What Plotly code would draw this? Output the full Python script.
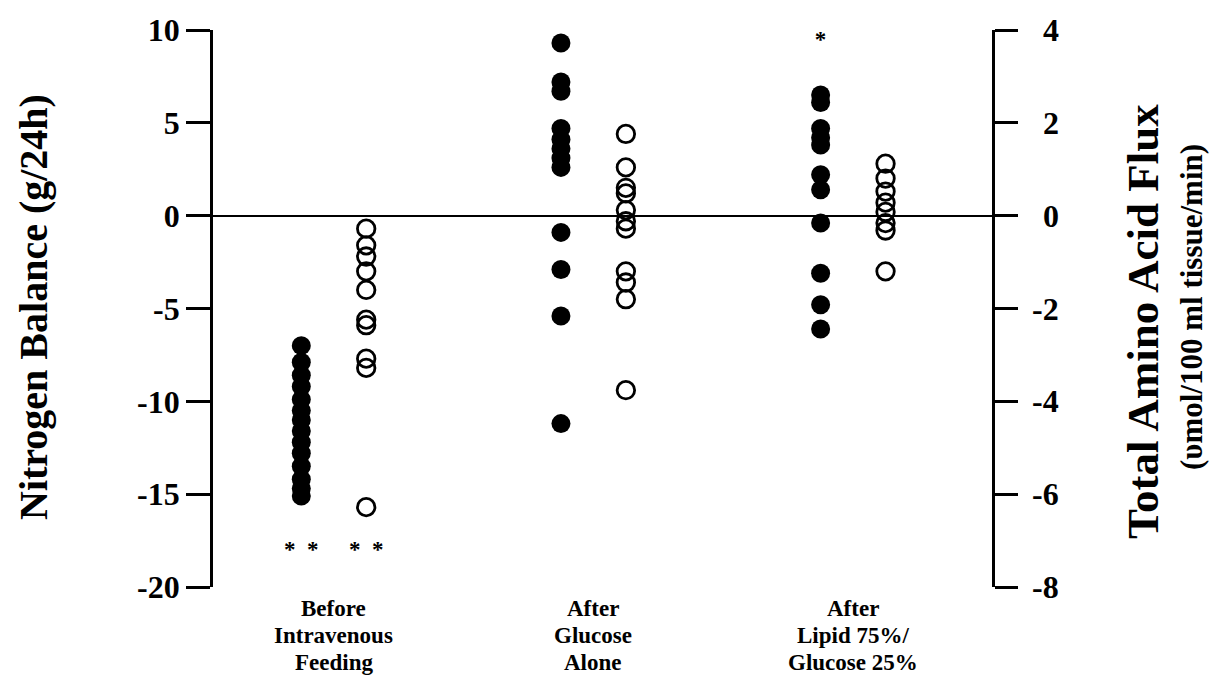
import plotly.graph_objects as go

# Group positions (categorical) and labels
groups = [1, 2, 3]
group_labels = [
    ["Before", "Intravenous", "Feeding"],
    ["After", "Glucose", "Alone"],
    ["After", "Lipid 75%/", "Glucose 25%"],
]

# Nitrogen balance (g/24h) - filled circles, left axis
nb_g1 = [-7.0, -7.9, -8.6, -9.2, -9.9, -10.5, -11.0, -11.6, -12.2, -12.8, -13.5, -14.2, -14.7, -15.1]
nb_g2 = [9.3, 7.2, 6.7, 4.7, 4.1, 3.6, 3.1, 2.6, -0.9, -2.9, -5.4, -11.2]
nb_g3 = [6.5, 6.1, 4.7, 4.2, 3.8, 2.2, 1.4, -0.4, -3.1, -4.8, -6.1]

# Total amino acid flux (umol/100 ml tissue/min) - open circles, right axis
aa_g1 = [-0.28, -0.64, -0.88, -1.2, -1.6, -2.24, -2.36, -3.08, -3.28, -6.28]
aa_g2 = [1.76, 1.04, 0.6, 0.48, 0.12, -0.12, -0.28, -1.2, -1.44, -1.8, -3.76]
aa_g3 = [1.12, 0.8, 0.52, 0.28, 0.08, -0.16, -0.32, -1.2]

left_ticks = [10, 5, 0, -5, -10, -15, -20]
right_ticks = [4, 2, 0, -2, -4, -6, -8]

# significance marks: (group, side, nitrogen-axis value, text)
stars = [(1, -1, -18.1, "*\u00a0\u00a0*"), (1, 1, -18.1, "*\u00a0\u00a0*"), (3, -1, 9.4, "*")]

OFF = 0.125
FONT = "Liberation Serif, Times New Roman, serif"
L, R, T, B = 213, 219, 26, 102
W, H = 1211, 689
PW = W - L - R
PH = H - T - B

fig = go.Figure()

for g, vals in zip(groups, [nb_g1, nb_g2, nb_g3]):
    fig.add_trace(go.Scatter(
        x=[g - OFF] * len(vals), y=vals, mode="markers",
        marker=dict(symbol="circle", size=19, color="black"),
        showlegend=False, yaxis="y"))

for g, vals in zip(groups, [aa_g1, aa_g2, aa_g3]):
    fig.add_trace(go.Scatter(
        x=[g + OFF] * len(vals), y=vals, mode="markers",
        marker=dict(symbol="circle-open", size=17.5, color="black",
                    line=dict(width=2.8, color="black")),
        showlegend=False, yaxis="y2"))

for g, side, v, t in stars:
    fig.add_trace(go.Scatter(
        x=[g + side * OFF], y=[v], mode="text", text=["<b>" + t + "</b>"],
        textfont=dict(family=FONT, size=23, color="black"),
        showlegend=False, yaxis="y"))

annotations = []
# category labels under the axis
for g, lines in zip(groups, group_labels):
    for i, line in enumerate(lines):
        annotations.append(dict(
            x=g, xref="x", y=0, yref="paper", yshift=-21 - 27 * i,
            text="<b>" + line + "</b>", showarrow=False,
            font=dict(family=FONT, size=23, color="black"),
            xanchor="center", yanchor="middle"))

# right axis tick labels (right-aligned)
for v in right_ticks:
    annotations.append(dict(
        x=(1061 - L) / PW, xref="paper", y=v, yref="y2",
        text="<b>%d</b>" % v, showarrow=False,
        font=dict(family=FONT, size=32, color="black"),
        xanchor="right", yanchor="middle"))

# axis titles
annotations.append(dict(
    x=(33 - L) / PW, xref="paper", y=(H - B - 305) / PH, yref="paper",
    text="<b>Nitrogen Balance (g/24h)</b>", showarrow=False, textangle=-90,
    font=dict(family=FONT, size=40, color="black"),
    xanchor="center", yanchor="middle"))
annotations.append(dict(
    x=(1143 - L) / PW, xref="paper", y=(H - B - 320) / PH, yref="paper",
    text="<b>Total Amino Acid Flux</b>", showarrow=False, textangle=-90,
    font=dict(family=FONT, size=45, color="black"),
    xanchor="center", yanchor="middle"))
annotations.append(dict(
    x=(1191 - L) / PW, xref="paper", y=(H - B - 305) / PH, yref="paper",
    text="<b>(\u03c5mol/100 ml tissue/min)</b>", showarrow=False, textangle=-90,
    font=dict(family=FONT, size=31, color="black"),
    xanchor="center", yanchor="middle"))

fig.update_layout(
    width=W, height=H,
    margin=dict(l=L, r=R, t=T, b=B),
    paper_bgcolor="white", plot_bgcolor="white",
    font=dict(family=FONT, color="black"),
    xaxis=dict(range=[0.535, 3.535], showgrid=False, zeroline=False,
               showline=False, showticklabels=False, ticks=""),
    yaxis=dict(range=[-20, 10], tickvals=left_ticks,
               ticktext=["<b>%d</b>" % v for v in left_ticks],
               tickfont=dict(family=FONT, size=32, color="black"),
               showgrid=False, showline=True, linecolor="black", linewidth=2.8,
               ticks="outside", ticklen=24, tickwidth=2.8, tickcolor="black",
               zeroline=True, zerolinecolor="black", zerolinewidth=2.4),
    yaxis2=dict(range=[-8, 4], overlaying="y", side="right",
                tickvals=right_ticks, showticklabels=False,
                showgrid=False, showline=True, linecolor="black", linewidth=2.8,
                ticks="outside", ticklen=23, tickwidth=2.8, tickcolor="black",
                zeroline=False),
    annotations=annotations,
)

fig.write_html("out.html")
